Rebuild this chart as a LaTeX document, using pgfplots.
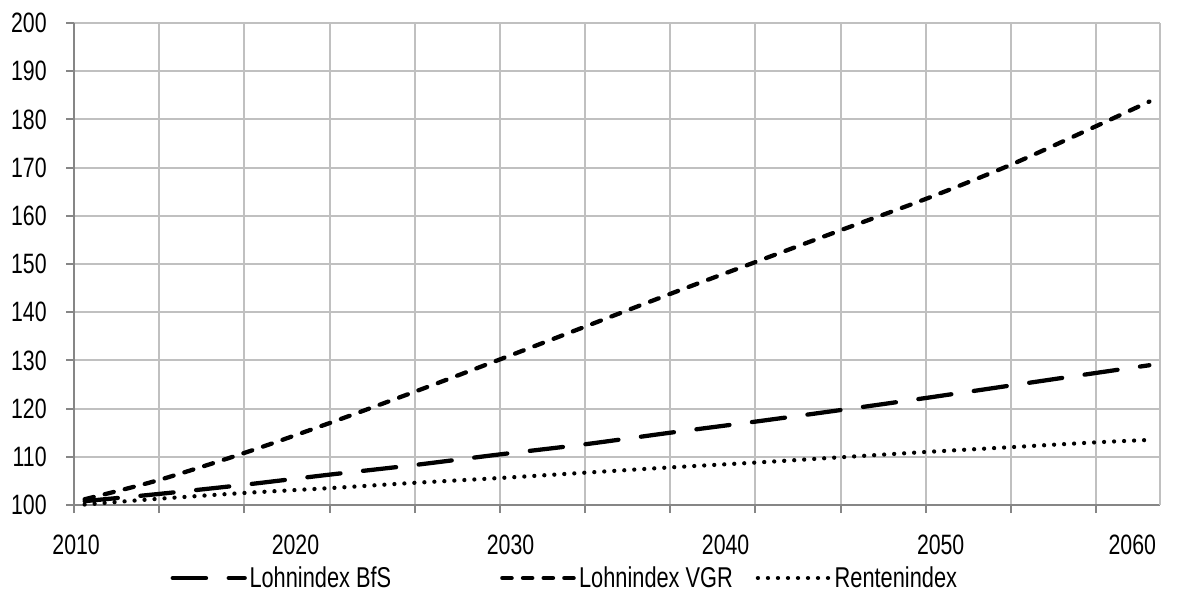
\documentclass[border=0pt]{standalone}
\usepackage{fontspec}
\setmainfont[FakeStretch=0.76]{Liberation Sans}
\usepackage{pgfplots}
\pgfplotsset{compat=1.18}
\definecolor{gridc}{HTML}{C0C0C0}
\definecolor{axc}{HTML}{868686}
\begin{document}
\begin{tikzpicture}
\useasboundingbox (0,0) rectangle (889.5pt,450.75pt);
\begin{axis}[
  at={(55.5pt,72pt)}, anchor=south west,
  scale only axis, width=814.5pt, height=361.5pt,
  xmin=2009.5, xmax=2060.5, ymin=100, ymax=200,
  axis lines=left,
  axis line style={-, draw=axc, line width=1.5pt},
  xtick={2009.5,2013.5,2017.5,2021.5,2025.5,2029.5,2033.5,2037.5,2041.5,2045.5,2049.5,2053.5,2057.5},
  xticklabels={},
  extra x ticks={2009.6,2019.9,2030,2040.1,2050.2,2059.2},
  extra x tick labels={2010,2020,2030,2040,2050,2060},
  extra x tick style={major tick length=0pt, grid=none},
  ytick={100,110,...,200},
  grid=major,
  major grid style={draw=gridc, line width=1.5pt},
  tick align=outside,
  major tick length=6pt,
  tick style={draw=axc, line width=1.5pt},
  /pgf/number format/assume math mode=true,
  ticklabel style={font=\fontsize{21}{22}\selectfont},
  yticklabel style={/pgf/number format/1000 sep={}, xshift=-11pt},
  xticklabel style={/pgf/number format/1000 sep={}, yshift=-19pt},
  clip=false,
  legend columns=3,
  legend style={at={(0.085,-0.1515)}, anchor=west, draw=none, fill=none,
    font=\fontsize{21.5}{23}\selectfont,
    /tikz/every even column/.style={column sep=0pt}},
  legend image code/.code={\draw[#1] (0pt,0pt) -- (54pt,0pt);},
]
\draw[gridc, line width=1.5pt] (rel axis cs:1,0) -- (rel axis cs:1,1);
\addplot[black, line width=3.2pt, line cap=round, dash pattern=on 25pt off 17pt, smooth] coordinates {
(2010,100.8) (2013.5,102.3) (2017.5,104.2) (2021.5,106.3) (2025.5,108.3) (2029.5,110.5)
(2033.5,112.6) (2037.5,115) (2041.5,117.3) (2045.5,119.7) (2049.5,122.2) (2053.5,124.8) (2057.5,127.4) (2060,129)};
\addlegendentry{\makebox[186pt][l]{Lohnindex BfS}}
\addplot[black, line width=3.2pt, line cap=round, dash pattern=on 7pt off 8.5pt, smooth] coordinates {
(2010,101.2) (2013.5,105.2) (2017.5,110.8) (2021.5,117) (2025.5,123.5) (2029.5,130.2)
(2033.5,137) (2037.5,143.8) (2041.5,150.4) (2045.5,157) (2049.5,163.5) (2053.5,170.6) (2057.5,178.6) (2060,183.7)};
\addlegendentry{\makebox[130.5pt][l]{Lohnindex VGR}}
\addplot[black, line width=3.2pt, line cap=round, dash pattern=on 0.01pt off 7.5pt, smooth] coordinates {
(2010,100.1) (2013.5,101.3) (2017.5,102.5) (2021.5,103.5) (2025.5,104.6) (2029.5,105.6)
(2033.5,106.7) (2037.5,107.8) (2041.5,108.8) (2045.5,109.9) (2049.5,111) (2053.5,112) (2057.5,113) (2060,113.5)};
\addlegendentry{Rentenindex}
\end{axis}
\end{tikzpicture}
\end{document}
